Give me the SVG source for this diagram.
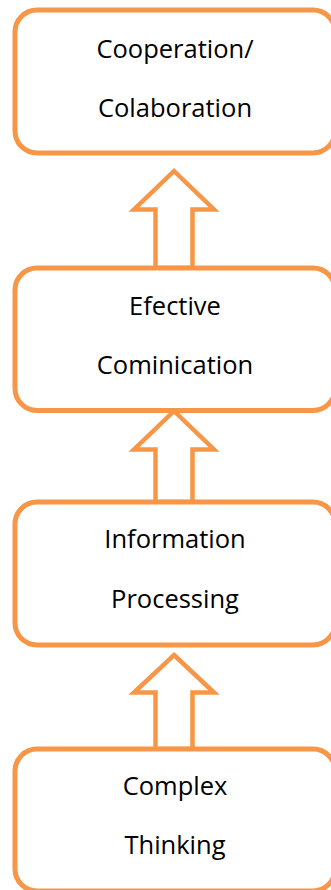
<svg xmlns="http://www.w3.org/2000/svg" width="331" height="890" viewBox="0 0 331 890">
  <style>
    .box { fill: #ffffff; stroke: #F79646; stroke-width: 5; }
    .arrow { fill: #ffffff; stroke: #F79646; stroke-width: 4.5; stroke-linejoin: miter; }
    .label { font-family: "Open Sans", Lato, sans-serif; font-size: 25.5px; fill: #000000; text-anchor: middle; font-variant-ligatures: none; }
  </style>

  <!-- block arrows pointing upward between stages -->
  <g id="connectors">
    <path class="arrow" d="M174,171 L214,209.5 L192.5,209.5 L192.5,268 L155.5,268 L155.5,209.5 L134,209.5 Z"/>
    <path class="arrow" d="M174,411 L214,449.5 L192.5,449.5 L192.5,502 L155.5,502 L155.5,449.5 L134,449.5 Z"/>
    <path class="arrow" d="M174,655 L214,692.5 L192.5,692.5 L192.5,749 L155.5,749 L155.5,692.5 L134,692.5 Z"/>
  </g>

  <g id="cooperation">
    <rect class="box" x="15" y="10" width="320" height="143" rx="22" ry="22"/>
    <text class="label" x="175" y="58">Cooperation/</text>
    <text class="label" x="175" y="117">Colaboration</text>
  </g>

  <g id="communication">
    <rect class="box" x="15" y="268" width="320" height="142.5" rx="22" ry="22"/>
    <text class="label" x="175" y="315">Efective</text>
    <text class="label" x="175" y="374">Cominication</text>
  </g>

  <g id="information">
    <rect class="box" x="15" y="502" width="320" height="143" rx="22" ry="22"/>
    <text class="label" x="175" y="548">Information</text>
    <text class="label" x="175" y="608">Processing</text>
  </g>

  <g id="thinking">
    <rect class="box" x="15" y="749" width="320" height="142" rx="22" ry="22"/>
    <text class="label" x="175" y="795">Complex</text>
    <text class="label" x="175" y="854">Thinking</text>
  </g>
</svg>
